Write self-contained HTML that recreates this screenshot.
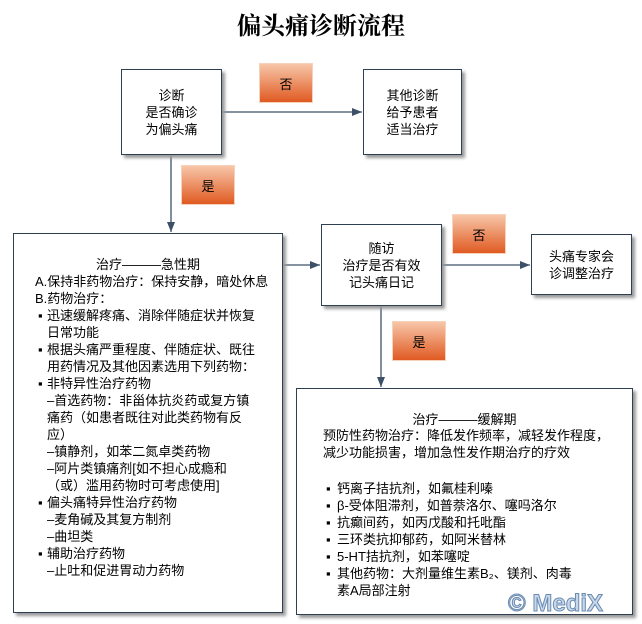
<!DOCTYPE html>
<html><head><meta charset="utf-8"><style>
body{margin:0;width:642px;height:624px;background:#fff;position:relative;overflow:hidden;font-family:"Liberation Sans","Noto Sans CJK SC",sans-serif;color:#000}
.b{position:absolute;box-sizing:border-box;border:1.5px solid #2f3f52;background:#fff;box-shadow:3px 3px 3px #999;font-size:13px;line-height:17px}
.c{display:flex;align-items:center;justify-content:center;text-align:center}
.l{position:absolute;width:54px;height:40px;background:linear-gradient(#f7c6a8,#e05a22);display:flex;align-items:center;justify-content:center;font-size:13px;border:1px solid #f6d2bb;box-sizing:border-box}
.t{position:absolute;font-size:13px;line-height:17px;white-space:nowrap}
svg{position:absolute;left:0;top:0}
</style></head><body>
<div style="position:absolute;left:0;width:642px;top:6px;text-align:center;font:bold 24px 'Liberation Serif','Noto Serif CJK SC',serif">偏头痛诊断流程</div>
<svg width="642" height="624"><defs><marker id="a" markerWidth="10" markerHeight="8" refX="10" refY="4" orient="auto" markerUnits="userSpaceOnUse"><path d="M0,0L10,4L0,8z" fill="#3c5068"/></marker></defs>
<g stroke="#3c5068" stroke-width="1.3" fill="none">
<line x1="221" y1="112" x2="362" y2="112" marker-end="url(#a)"/>
<line x1="171" y1="154" x2="171" y2="232" marker-end="url(#a)"/>
<line x1="283" y1="265" x2="320" y2="265" marker-end="url(#a)"/>
<line x1="441" y1="265" x2="530" y2="265" marker-end="url(#a)"/>
<line x1="381" y1="305" x2="381" y2="387" marker-end="url(#a)"/>
</g></svg>
<div class="b c" style="left:121px;top:69px;width:101px;height:86px">诊断<br>是否确诊<br>为偏头痛</div>
<div class="b c" style="left:363px;top:69px;width:99px;height:86px">其他诊断<br>给予患者<br>适当治疗</div>
<div class="l" style="left:259px;top:63px">否</div>
<div class="l" style="left:181px;top:165px">是</div>
<div class="b" style="left:13px;top:233px;width:270px;height:380px"></div>
<div class="t" style="left:0;width:296px;text-align:center;top:256px">治疗———急性期</div>
<div class="t" style="left:35px;top:273px">A.保持非药物治疗：保持安静，暗处休息<br>B.药物治疗：</div>
<div class="t" style="left:38px;top:307px">▪<br><br>▪<br><br>▪<br><br><br><br><br><br><br>▪<br><br><br>▪</div>
<div class="t" style="left:47px;top:307px">迅速缓解疼痛、消除伴随症状并恢复<br>日常功能<br>根据头痛严重程度、伴随症状、既往<br>用药情况及其他因素选用下列药物：<br>非特异性治疗药物<br>–首选药物：非甾体抗炎药或复方镇<br>痛药（如患者既往对此类药物有反<br>应）<br>–镇静剂，如苯二氮卓类药物<br>–阿片类镇痛剂[如不担心成瘾和<br>（或）滥用药物时可考虑使用]<br>偏头痛特异性治疗药物<br>–麦角碱及其复方制剂<br>–曲坦类<br>辅助治疗药物<br>–止吐和促进胃动力药物</div>
<div class="b c" style="left:321px;top:224px;width:121px;height:82px">随访<br>治疗是否有效<br>记头痛日记</div>
<div class="l" style="left:452px;top:214px">否</div>
<div class="b c" style="left:531px;top:234px;width:101px;height:61px">头痛专家会<br>诊调整治疗</div>
<div class="l" style="left:392px;top:321px">是</div>
<div class="b" style="left:296px;top:388px;width:337px;height:227px"></div>
<div class="t" style="left:296px;width:337px;text-align:center;top:411px">治疗———缓解期</div>
<div class="t" style="left:323px;top:427px">预防性药物治疗：降低发作频率，减轻发作程度，<br>减少功能损害，增加急性发作期治疗的疗效</div>
<div class="t" style="left:326px;top:480px">▪<br>▪<br>▪<br>▪<br>▪<br>▪</div>
<div class="t" style="left:337px;top:480px">钙离子拮抗剂，如氟桂利嗪<br>β-受体阻滞剂，如普萘洛尔、噻吗洛尔<br>抗癫间药，如丙戊酸和托吡酯<br>三环类抗抑郁药，如阿米替林<br>5-HT拮抗剂，如苯噻啶<br>其他药物：大剂量维生素B₂、镁剂、肉毒<br>素A局部注射</div>
<div style="position:absolute;left:508px;top:590px;font:bold 24px 'Liberation Sans',sans-serif;color:#c8d8ec;-webkit-text-stroke:1px #6a8ab0">© MediX</div>
</body></html>
